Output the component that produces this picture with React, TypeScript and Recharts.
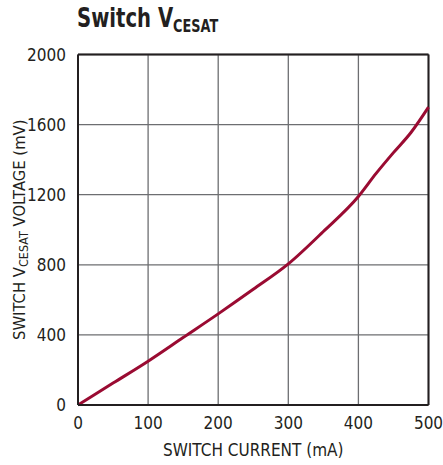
import React from "react";
import { LineChart, Line, XAxis, YAxis, CartesianGrid, ReferenceLine } from "recharts";

const currentMA = [0, 50, 100, 150, 200, 250, 300, 350, 400, 425, 450, 475, 500];
const vcesatMV = [0, 125, 250, 385, 520, 660, 805, 990, 1190, 1320, 1440, 1555, 1700];
const xTicks = [0, 100, 200, 300, 400, 500];
const yTicks = [0, 400, 800, 1200, 1600, 2000];

const data = currentMA.map((c, i) => ({ c, v: vcesatMV[i] }));

const FONT = "'DejaVu Sans Condensed', 'DejaVu Sans', sans-serif";
const TEXT = "#231f20";

const YLabel = (props: any) => {
  const vb = props.viewBox || { x: 0, y: 0, width: 78, height: 350 };
  const cx = vb.x + 25;
  const cy = vb.y + vb.height / 2;
  return (
    <text
      x={cx}
      y={cy}
      transform={`rotate(-90 ${cx} ${cy})`}
      textAnchor="middle"
      fill={TEXT}
      fontSize={16.5}
      fontFamily={FONT}
    >
      <tspan>SWITCH V</tspan>
      <tspan fontSize={12.5} dy={3}>CESAT</tspan>
      <tspan dy={-3}> VOLTAGE (mV)</tspan>
    </text>
  );
};

export default function App() {
  return (
    <div style={{ position: "absolute", left: 0, top: 0, width: 443, height: 465, background: "#fff" }}>
      <LineChart
        width={443}
        height={465}
        data={data}
        margin={{ top: 54.5, right: 14.5, bottom: 0, left: 0 }}
        style={{ position: "absolute", left: 0, top: 0 }}
      >
        <CartesianGrid stroke="#6d6e71" strokeWidth={1.3} vertical horizontal />
        <XAxis
          dataKey="c"
          type="number"
          domain={[0, 500]}
          ticks={xTicks}
          height={60}
          tickSize={0}
          tickMargin={12}
          axisLine={{ stroke: "#231f20", strokeWidth: 2 }}
          tick={{ fill: TEXT, fontSize: 17, fontFamily: FONT }}
          interval={0}
          label={{
            value: "SWITCH CURRENT (mA)",
            position: "insideBottom",
            offset: 9,
            fill: TEXT,
            fontSize: 17,
            fontFamily: FONT,
          }}
        />
        <YAxis
          type="number"
          domain={[0, 2000]}
          ticks={yTicks}
          width={78}
          tickSize={0}
          tickMargin={12}
          axisLine={{ stroke: "#231f20", strokeWidth: 2 }}
          tick={{ fill: TEXT, fontSize: 17, fontFamily: FONT }}
          interval={0}
          label={<YLabel />}
        />
        <ReferenceLine y={2000} stroke="#231f20" strokeWidth={2} />
        <ReferenceLine x={500} stroke="#231f20" strokeWidth={2} />
        <Line
          type="monotone"
          dataKey="v"
          stroke="#9a0b32"
          strokeWidth={3}
          dot={false}
          isAnimationActive={false}
        />
      </LineChart>
      <div
        style={{
          position: "absolute",
          left: 77,
          top: 3,
          fontFamily: FONT,
          fontWeight: "bold",
          fontSize: 26,
          color: TEXT,
          whiteSpace: "nowrap",
          lineHeight: "30px",
          transform: "scaleX(0.84)",
          transformOrigin: "left top",
        }}
      >
        Switch V<span style={{ fontSize: 17, position: "relative", top: 5 }}>CESAT</span>
      </div>
    </div>
  );
}
